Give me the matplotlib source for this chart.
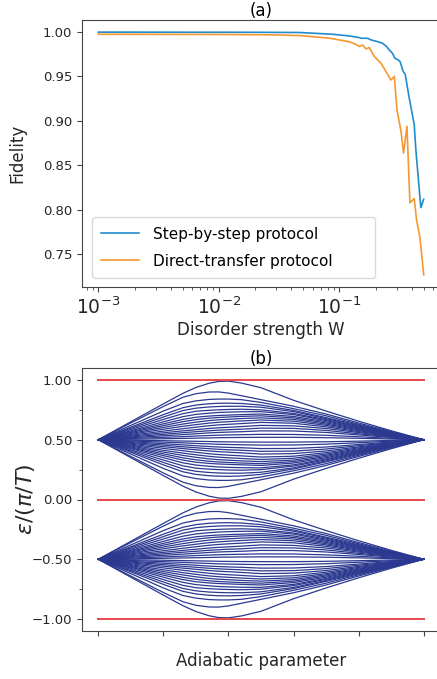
import numpy as np
import matplotlib.pyplot as plt
from matplotlib.ticker import MultipleLocator, FuncFormatter

# (a) fidelity against disorder strength
w_step = [0.001, 0.002, 0.005, 0.01, 0.02, 0.0467, 0.088, 0.121, 0.146, 0.151,
          0.171, 0.183, 0.207, 0.228, 0.246, 0.259, 0.275, 0.288, 0.307, 0.318,
          0.338, 0.351, 0.379, 0.417, 0.430, 0.473, 0.50]
f_step = [0.9998, 0.9998, 0.9997, 0.9997, 0.9996, 0.9994, 0.9974, 0.9955, 0.9937, 0.9929,
          0.9929, 0.9910, 0.9891, 0.9873, 0.9836, 0.9798, 0.9761, 0.9705, 0.9686, 0.9668,
          0.9556, 0.9526, 0.9258, 0.8959, 0.868, 0.8026, 0.812]

w_direct = [0.001, 0.003, 0.01, 0.03, 0.0467, 0.0826, 0.121, 0.1375, 0.146, 0.156,
            0.166, 0.177, 0.1946, 0.221, 0.243, 0.267, 0.285, 0.300, 0.324, 0.340,
            0.363, 0.384, 0.417, 0.436, 0.465, 0.50]
f_direct = [0.9974, 0.9973, 0.9972, 0.9967, 0.9959, 0.9930, 0.9890, 0.9860, 0.9836, 0.9854,
            0.9810, 0.9825, 0.9724, 0.9650, 0.9556, 0.9460, 0.9500, 0.9127, 0.8884, 0.8640,
            0.8940, 0.8080, 0.8127, 0.7890, 0.7690, 0.7270]

# (b) quasienergy levels: deviation of each level from its band centre
adiabatic = [0, 0.1, 0.2, 0.26, 0.3, 0.34, 0.37, 0.4, 0.44, 0.5, 0.6, 0.7, 0.8, 0.9, 1.0]
level_dev = [
    [0, .150, .300, .388, .437, .472, .488, .490, .474, .435, .330, .240, .155, .075, 0],
    [0, .140, .278, .355, .385, .399, .400, .390, .368, .335, .280, .215, .140, .068, 0],
    [0, .120, .240, .303, .325, .337, .340, .340, .335, .312, .260, .200, .130, .062, 0],
    [0, .105, .210, .268, .290, .301, .305, .306, .303, .290, .245, .185, .122, .058, 0],
    [0, .095, .190, .244, .264, .274, .278, .280, .280, .272, .235, .177, .115, .055, 0],
    [0, .085, .170, .218, .238, .246, .250, .253, .255, .250, .220, .168, .108, .052, 0],
    [0, .075, .150, .193, .212, .222, .228, .231, .234, .235, .210, .160, .102, .048, 0],
    [0, .067, .133, .170, .188, .198, .203, .206, .210, .215, .195, .150, .096, .045, 0],
    [0, .060, .118, .151, .168, .180, .186, .190, .195, .200, .183, .140, .090, .042, 0],
    [0, .052, .103, .131, .147, .160, .167, .171, .177, .183, .170, .130, .083, .039, 0],
    [0, .045, .088, .112, .126, .139, .146, .151, .157, .165, .155, .120, .076, .036, 0],
    [0, .037, .072, .092, .105, .117, .124, .129, .135, .145, .138, .108, .068, .032, 0],
    [0, .030, .058, .074, .084, .094, .100, .104, .110, .120, .116, .094, .060, .028, 0],
    [0, .023, .045, .059, .067, .075, .080, .084, .088, .097, .095, .078, .050, .024, 0],
    [0, .017, .033, .043, .050, .057, .061, .064, .067, .074, .073, .061, .040, .019, 0],
    [0, .010, .020, .026, .031, .035, .038, .040, .042, .045, .044, .037, .025, .012, 0],
    [0, .004, .008, .011, .013, .015, .017, .018, .019, .020, .020, .017, .012, .006, 0],
]
band_centres = [0.5, -0.5]
zone_edges = [1.0, 0.0, -1.0]

plt.rcParams["axes.edgecolor"] = "#444444"
plt.rcParams["xtick.color"] = "#444444"
plt.rcParams["ytick.color"] = "#444444"
plt.rcParams["xtick.labelcolor"] = "#262626"
plt.rcParams["ytick.labelcolor"] = "#262626"
plt.rcParams["axes.labelcolor"] = "#262626"

fig = plt.figure(figsize=(4.37, 6.79), dpi=100)
ax1 = fig.add_axes([82 / 437, 1 - 287 / 679, 358 / 437, 267 / 679])
ax2 = fig.add_axes([82 / 437, 1 - 631 / 679, 358 / 437, 263 / 679])

ax1.plot(w_step, f_step, color="#1f8ccc", lw=1.2, label="Step-by-step protocol")
ax1.plot(w_direct, f_direct, color="#f5982f", lw=1.2, label="Direct-transfer protocol")
ax1.set_xscale("log")
ax1.set_title("(a)", fontsize=12, pad=2.5)
ax1.set_xlabel("Disorder strength W", fontsize=12, labelpad=2)
ax1.set_ylabel("Fidelity", fontsize=12, labelpad=12)
ax1.tick_params(axis="x", labelsize=13.5)
ax1.tick_params(axis="y", labelsize=9.5)
ax1.legend(loc="lower left", bbox_to_anchor=(0.028, 0.034, 0.79, 0.3), mode="expand",
           borderaxespad=0, fontsize=11, handlelength=2.5, handletextpad=0.9,
           labelspacing=0.8, borderpad=0.6, edgecolor="#d0d0d0")

x = np.array(adiabatic)
for centre in band_centres:
    for dev in level_dev:
        d = np.array(dev)
        ax2.plot(x, centre + d, color="#2b3990", lw=0.9)
        ax2.plot(x, centre - d, color="#2b3990", lw=0.9)
for edge in zone_edges:
    ax2.plot([adiabatic[0], adiabatic[-1]], [edge, edge], color="#e8474c", lw=1.4)

ax2.set_title("(b)", fontsize=12, pad=2.5)
ax2.set_xlabel("Adiabatic parameter", fontsize=12, labelpad=8)
ax2.set_ylabel(r"$\epsilon/(\pi/T)$", fontsize=16, labelpad=-4)
ax2.xaxis.set_major_locator(MultipleLocator(0.2))
ax2.set_xticklabels([])
ax2.yaxis.set_major_locator(MultipleLocator(0.5))
ax2.yaxis.set_minor_locator(MultipleLocator(0.25))
ax2.yaxis.set_major_formatter(FuncFormatter(lambda v, _: f"{v:.2f}".replace("-", "\u2212")))
ax2.tick_params(axis="y", labelsize=9.5)

plt.savefig("out.png", dpi=100)
